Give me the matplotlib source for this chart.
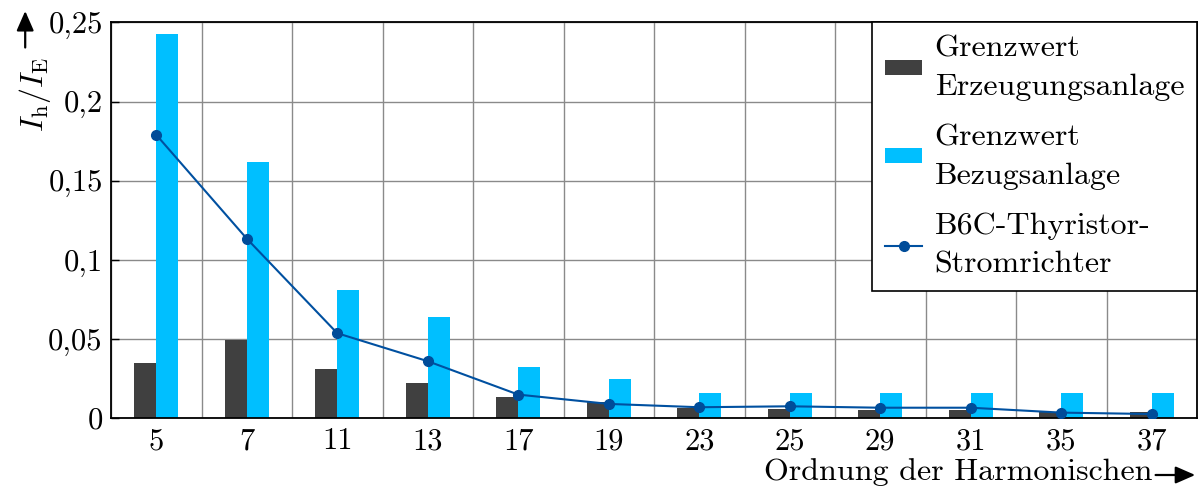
import numpy as np
import matplotlib
matplotlib.use('Agg')
import matplotlib.pyplot as plt
from matplotlib.patches import FancyArrowPatch

plt.rcParams['font.family'] = ['cmr10', 'DejaVu Serif']
plt.rcParams['mathtext.fontset'] = 'cm'
plt.rcParams['axes.unicode_minus'] = False

## harmonic orders and limit values (relative to I_E)
harmonics = ['5', '7', '11', '13', '17', '19', '23', '25', '29', '31', '35', '37']
grenz_erzeugung = [0.035, 0.0496, 0.031, 0.0224, 0.0133, 0.0101, 0.0066, 0.0057, 0.0049, 0.0049, 0.0036, 0.004]
grenz_bezug = [0.243, 0.162, 0.081, 0.064, 0.032, 0.0245, 0.016, 0.016, 0.016, 0.016, 0.016, 0.016]
b6c = [0.179, 0.1134, 0.0536, 0.0359, 0.0148, 0.0089, 0.0068, 0.0074, 0.0065, 0.0065, 0.0034, 0.0025]

ytick_vals = [0, 0.05, 0.1, 0.15, 0.2, 0.25]
ytick_labels = ['0', '0,05', '0,1', '0,15', '0,2', '0,25']

fig = plt.figure(figsize=(12, 5), dpi=100)
ax = fig.add_axes([0.0925, 0.164, 0.905, 0.791])

x = np.arange(len(harmonics))
w = 0.243
ax.bar(x - w / 2, grenz_erzeugung, width=w, color='#404040', zorder=2,
       label='Grenzwert\nErzeugungsanlage')
ax.bar(x + w / 2, grenz_bezug, width=w, color='#00BFFF', zorder=2,
       label='Grenzwert\nBezugsanlage')
ax.plot(x, b6c, color='#0050A0', lw=1.5, marker='o', ms=7, mfc='#004C99',
        mec='#004C99', zorder=3, label='B6C-Thyristor-\nStromrichter')

ax.set_xlim(-0.5, len(harmonics) - 0.5)
ax.set_ylim(0, 0.25)
ax.set_xticks(x)
ax.set_xticklabels(harmonics, fontsize=22)
ax.set_xticks(np.arange(len(harmonics) + 1) - 0.5, minor=True)
ax.set_yticks(ytick_vals)
ax.set_yticklabels(ytick_labels, fontsize=22)
ax.tick_params(axis='x', which='both', length=0, pad=7)
ax.tick_params(axis='y', direction='in', length=6, width=1, pad=6)

ax.grid(True, which='minor', axis='x', color='#8a8a8a', lw=1)
ax.grid(True, which='major', axis='y', color='#8a8a8a', lw=1)
ax.set_axisbelow(True)
for s in ax.spines.values():
    s.set_linewidth(1.3)

## legend order: bars first, then the converter curve
h, l = ax.get_legend_handles_labels()
order = [1, 2, 0]
leg = ax.legend([h[i] for i in order], [l[i] for i in order],
                loc='upper right', fontsize=23, frameon=True, fancybox=False,
                edgecolor='black', borderaxespad=0, handlelength=1.15,
                labelspacing=0.7, borderpad=0.4, handletextpad=0.4,
                handleheight=0.35)
for t in leg.get_texts():
    t.set_linespacing(1.52)
leg.get_frame().set_linewidth(1.2)
leg.get_frame().set_alpha(1)

## axis labels with arrows
fig.text(0.029, 0.81, r'$I_{\mathrm{h}}/I_{\mathrm{E}}$',
         rotation=90, ha='center', va='center', fontsize=23)
fig.text(0.9605, 0.027, 'Ordnung der Harmonischen',
         ha='right', va='bottom', fontsize=23)
arrow = dict(arrowstyle='-|>,head_length=0.8,head_width=0.35', color='black',
             lw=1.6, shrinkA=0, shrinkB=0, mutation_scale=15)
fig.add_artist(FancyArrowPatch((0.021, 0.905), (0.021, 0.978),
                               transform=fig.transFigure, **arrow))
fig.add_artist(FancyArrowPatch((0.963, 0.05), (0.996, 0.05),
                               transform=fig.transFigure, **arrow))

fig.savefig('out.png', dpi=100)
